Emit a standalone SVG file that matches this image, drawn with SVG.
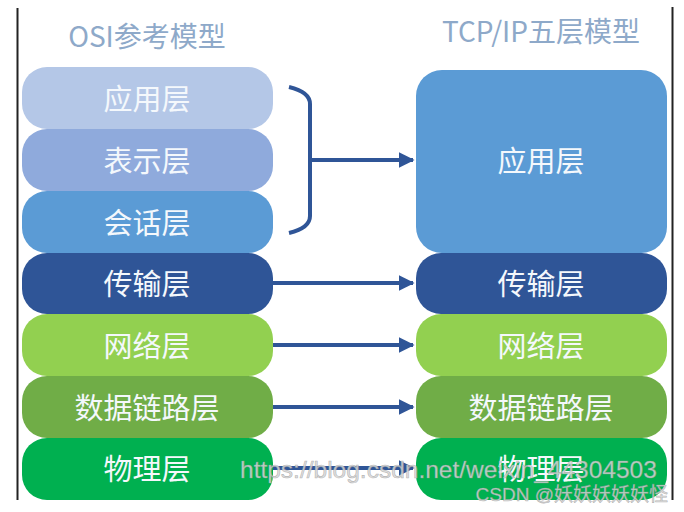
<svg xmlns="http://www.w3.org/2000/svg" width="684" height="512" viewBox="0 0 684 512">
<defs>
<marker id="ah" viewBox="0 0 10 10" refX="9" refY="5" markerWidth="4" markerHeight="4.5" orient="auto" markerUnits="strokeWidth">
<path d="M0,0 L10,5 L0,10 z" fill="#2f5597"/>
</marker>
<style>
.lbl{font-family:"Noto Sans CJK SC","Liberation Sans",sans-serif;font-size:29px;fill:#f4f8fc;text-anchor:middle;dominant-baseline:central}
.ttl{font-family:"Noto Sans CJK SC","Liberation Sans",sans-serif;font-size:28px;fill:#8ea9c9;text-anchor:middle;dominant-baseline:central}
.con{stroke:#2f5597;stroke-width:4;fill:none}
.wm{font-family:"Liberation Sans","Noto Sans CJK SC",sans-serif;fill:#d8d8d8;fill-opacity:0.85;stroke:#9a9a9a;stroke-width:0.6;stroke-opacity:0.7}
</style>
</defs>
<rect width="684" height="512" fill="#ffffff"/>
<line x1="17.5" y1="8" x2="17.5" y2="500" stroke="#222" stroke-width="2"/>
<line x1="672.5" y1="7" x2="672.5" y2="500" stroke="#222" stroke-width="2"/>
<text class="ttl" x="147" y="35">OSI参考模型</text>
<text class="ttl" x="541" y="30">TCP/IP五层模型</text>
<g id="osi-app"><rect x="22" y="67" width="251" height="62" rx="25" fill="#b4c7e7"/><text class="lbl" x="147" y="97">应用层</text></g>
<g id="osi-pres"><rect x="22" y="129" width="251" height="62" rx="25" fill="#8faadc"/><text class="lbl" x="147" y="159">表示层</text></g>
<g id="osi-sess"><rect x="22" y="191" width="251" height="62" rx="25" fill="#5b9bd5"/><text class="lbl" x="147" y="221">会话层</text></g>
<g id="osi-trans"><rect x="22" y="253" width="251" height="61" rx="25" fill="#2f5597"/><text class="lbl" x="147" y="282">传输层</text></g>
<g id="osi-net"><rect x="22" y="314" width="251" height="62" rx="25" fill="#92d050"/><text class="lbl" x="147" y="344">网络层</text></g>
<g id="osi-link"><rect x="22" y="376" width="251" height="62" rx="25" fill="#70ad47"/><text class="lbl" x="147" y="406">数据链路层</text></g>
<g id="osi-phys"><rect x="22" y="438" width="251" height="62" rx="25" fill="#00b050"/><text class="lbl" x="147" y="467">物理层</text></g>
<g id="tcp-app"><rect x="416" y="70" width="251" height="183" rx="26" fill="#5b9bd5"/><text class="lbl" x="541" y="159">应用层</text></g>
<g id="tcp-trans"><rect x="416" y="253" width="251" height="61" rx="25" fill="#2f5597"/><text class="lbl" x="541" y="282">传输层</text></g>
<g id="tcp-net"><rect x="416" y="314" width="251" height="62" rx="25" fill="#92d050"/><text class="lbl" x="541" y="344">网络层</text></g>
<g id="tcp-link"><rect x="416" y="376" width="251" height="62" rx="25" fill="#70ad47"/><text class="lbl" x="541" y="406">数据链路层</text></g>
<g id="tcp-phys"><rect x="416" y="438" width="251" height="62" rx="25" fill="#00b050"/><text class="lbl" x="541" y="467">物理层</text></g>
<g id="connectors">
<path class="con" d="M289,87 Q310,92 310,104 L310,216 Q310,228 289,233"/>
<path class="con" d="M310,160 L413,160" marker-end="url(#ah)"/>
<path class="con" d="M273,283 L413,283" marker-end="url(#ah)"/>
<path class="con" d="M273,345 L413,345" marker-end="url(#ah)"/>
<path class="con" d="M273,407 L413,407" marker-end="url(#ah)"/>
<path class="con" d="M273,468 L413,468" marker-end="url(#ah)"/>
</g>
<text class="wm" x="240" y="478" font-size="24.5">https://blog.csdn.net/weixin_44304503</text>
<text class="wm" x="668" y="501" font-size="19" text-anchor="end">CSDN @妖妖妖妖妖怪</text>
</svg>
